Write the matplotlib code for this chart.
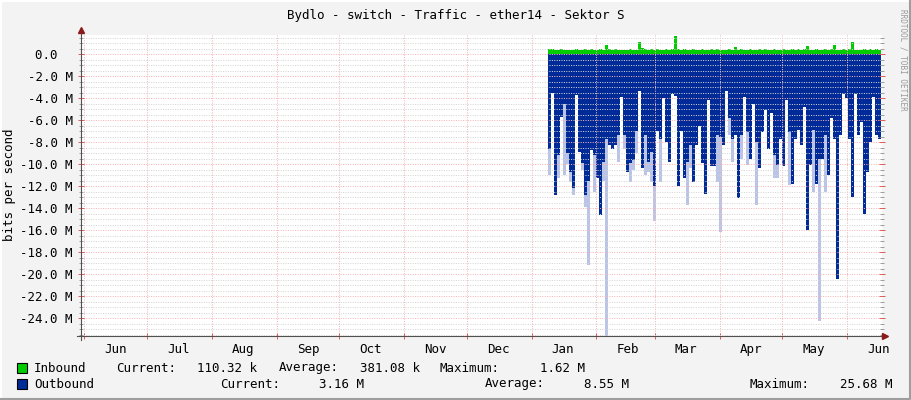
import datetime as dt
import matplotlib
matplotlib.use("Agg")
import matplotlib.pyplot as plt
import matplotlib.dates as mdates
from matplotlib.ticker import MultipleLocator, FuncFormatter, NullFormatter
from matplotlib.lines import Line2D
from matplotlib.patches import Rectangle
import pandas as pd

plt.rcParams['font.family'] = ['DejaVu Sans Mono']

W, H = 911, 400

title = "Bydlo - switch - Traffic - ether14 - Sektor S"

# samples, one per ~3 px column (values in Mbit/s)
inbound = [0.45, 0.42, 0.38, 0.40, 0.43, 0.36, 0.39, 0.41, 0.37, 0.44,
           0.40, 0.35, 0.42, 0.38, 0.46, 0.40, 0.37, 0.43, 0.39, 0.80,
           0.42, 0.38, 0.45, 0.40, 0.36, 0.41, 0.39, 0.44, 0.37, 0.40,
           1.10, 0.55, 0.42, 0.38, 0.46, 0.40, 0.43, 0.37, 0.41, 0.45,
           0.39, 0.48, 1.60, 0.44, 0.38, 0.42, 0.40, 0.36, 0.43, 0.39,
           0.41, 0.45, 0.37, 0.40, 0.44, 0.38, 0.42, 0.40, 0.36, 0.41,
           0.45, 0.39, 0.62, 0.40, 0.43, 0.37, 0.41, 0.44, 0.38, 0.40,
           0.46, 0.39, 0.42, 0.37, 0.41, 0.44, 0.38, 0.40, 0.43, 0.36,
           0.41, 0.45, 0.39, 0.42, 0.40, 0.48, 0.75, 0.41, 0.38, 0.44,
           0.40, 0.37, 0.43, 0.39, 0.46, 0.85, 0.41, 0.38, 0.42, 0.40,
           0.44, 1.05, 0.39, 0.41, 0.37, 0.43, 0.40, 0.45, 0.38, 0.42, 0.36]

# outbound: dark part (typical) and faint tail (peak within the column)
outbound_solid = [8.6, 3.5, 12.8, 9.2, 5.7, 4.5, 9.0, 10.7, 12.2, 3.7,
                  8.9, 9.9, 12.8, 11.5, 8.7, 9.2, 11.3, 14.6, 9.8, 7.7,
                  8.3, 8.6, 8.3, 7.4, 3.9, 7.4, 10.7, 9.9, 9.6, 7.0,
                  3.4, 10.4, 7.4, 9.8, 8.9, 12.0, 7.0, 7.7, 4.0, 8.0,
                  9.8, 3.6, 3.8, 12.0, 7.0, 11.3, 9.8, 8.3, 11.6, 8.3,
                  6.5, 9.9, 12.7, 4.2, 10.2, 10.2, 7.4, 7.5, 8.3, 3.4,
                  5.8, 7.7, 7.4, 13.1, 7.4, 3.9, 7.1, 9.5, 4.5, 8.0,
                  10.4, 7.1, 5.1, 8.6, 5.4, 9.2, 10.1, 7.7, 10.2, 4.2,
                  7.1, 11.8, 7.7, 6.9, 8.3, 4.8, 16.0, 10.1, 6.9, 11.8,
                  9.5, 9.5, 7.4, 11.0, 5.8, 7.7, 20.4, 7.4, 3.6, 4.0,
                  7.7, 13.0, 3.6, 7.4, 6.2, 14.5, 10.7, 8.0, 3.9, 7.4, 7.7]

outbound_peak = [11.0, 3.5, 12.8, 11.3, 5.7, 11.0, 10.0, 11.6, 12.8, 3.7,
                 8.9, 10.5, 13.9, 19.2, 8.7, 12.5, 11.3, 14.6, 11.5, 25.7,
                 8.3, 8.6, 8.3, 9.8, 3.9, 8.6, 10.7, 11.6, 10.5, 9.0,
                 3.4, 10.4, 11.0, 10.7, 11.6, 15.2, 7.0, 11.6, 4.0, 8.0,
                 9.8, 3.6, 3.8, 12.0, 7.0, 11.3, 13.7, 10.4, 11.6, 8.3,
                 6.5, 9.9, 12.7, 4.2, 10.2, 10.2, 11.6, 16.2, 8.3, 3.4,
                 7.4, 9.8, 7.4, 13.1, 9.5, 3.9, 10.1, 9.5, 4.5, 13.7,
                 10.4, 7.1, 5.1, 8.6, 5.4, 11.3, 11.3, 7.7, 10.2, 4.2,
                 11.9, 11.8, 7.7, 6.9, 8.3, 4.8, 16.0, 10.1, 12.5, 11.8,
                 24.3, 9.5, 12.5, 11.0, 5.8, 7.7, 20.4, 7.4, 3.6, 4.0,
                 7.7, 13.0, 3.6, 7.4, 6.2, 14.5, 10.7, 8.0, 3.9, 7.4, 7.7]

legend_in = ["Current:", "110.32 k", "Average:", "381.08 k", "Maximum:", "1.62 M"]
legend_out = ["Current:", "3.16 M", "Average:", "8.55 M", "Maximum:", "25.68 M"]

in_color = '#00CC00'
out_color = '#002A97'
faint_color = '#BAC4E6'
bg = '#F3F3F3'

# time axis: one sample every 2067 minutes starting early January
n = len(inbound)
times = pd.date_range(dt.datetime(2019, 1, 8, 22), periods=n + 1, freq='2067min')
x = mdates.date2num(times.to_pydatetime())
inb = inbound + [inbound[-1]]
sol = [-v for v in outbound_solid] + [-outbound_solid[-1]]
pk = [-v for v in outbound_peak] + [-outbound_peak[-1]]

fig = plt.figure(figsize=(W / 100, H / 100), dpi=100, facecolor=bg)
ax = fig.add_axes([81 / W, 1 - 336 / H, 801 / W, 301 / H])
ax.set_facecolor('white')

ax.fill_between(x, 0, pk, step='post', color=faint_color, lw=0, zorder=1)
ax.fill_between(x, 0, sol, step='post', color=out_color, lw=0, zorder=1.1)
ax.fill_between(x, 0, inb, step='post', color=in_color, lw=0, zorder=1.2)

ax.set_xlim(mdates.date2num(dt.datetime(2018, 5, 30, 10)),
            mdates.date2num(dt.datetime(2019, 6, 17, 16)))
ax.set_ylim(-25.62, 1.73)

# grid
ax.xaxis.set_major_locator(mdates.MonthLocator())
ax.xaxis.set_major_formatter(NullFormatter())
ax.xaxis.set_minor_locator(mdates.MonthLocator(bymonthday=16))
ax.xaxis.set_minor_formatter(mdates.DateFormatter('%b'))
ax.yaxis.set_major_locator(MultipleLocator(2))
ax.yaxis.set_minor_locator(MultipleLocator(0.5))
ax.yaxis.set_major_formatter(FuncFormatter(
    lambda v, p: "0.0  " if abs(v) < 1e-9 else f"{v:.1f} M"))

ax.set_axisbelow(False)
ax.grid(which='major', color='#F6B4B4', lw=0.72, ls=(0, (1, 1.4)))
ax.grid(which='minor', axis='y', color='#D4D4D4', lw=0.72, ls=(0, (1, 1.4)))

ax.tick_params(axis='y', which='major', direction='inout', length=4, width=0.72,
               color='#E06060', left=True, right=True, labelsize=9, pad=4)
ax.tick_params(axis='y', which='minor', direction='inout', length=3, width=0.72,
               color='#A0A0A0', left=True, right=True)
ax.tick_params(axis='x', which='major', direction='inout', length=4, width=0.72,
               color='#E06060')
ax.tick_params(axis='x', which='minor', length=0, labelsize=9, pad=5)

for s in ax.spines.values():
    s.set_visible(False)

# axis lines with arrows
def px(xp, yp):
    return xp / W, 1 - yp / H

fig.add_artist(Line2D(*zip(px(81, 340), px(81, 31)), color='#505050', lw=0.8))
fig.add_artist(Line2D(*zip(px(77, 336), px(884, 336)), color='#505050', lw=0.8))
fig.add_artist(Line2D([px(81, 30)[0]], [px(81, 30)[1]], marker='^', ms=5,
                      color='#8B1A1A', lw=0))
fig.add_artist(Line2D([px(885, 336)[0]], [px(885, 336)[1]], marker='>', ms=5,
                      color='#8B1A1A', lw=0))

# title and labels
fig.text(*px(455.5, 15), title, ha='center', va='center', fontsize=9)
fig.text(*px(10, 185), "bits per second", rotation=90, ha='center',
         va='center', fontsize=9)
fig.text(*px(903, 60), "RRDTOOL / TOBI OETIKER", rotation=270, ha='center',
         va='center', fontsize=5.5, color='#9A9A9A')

# legend
for yrow, col, name in [(368, in_color, "Inbound"), (384, out_color, "Outbound")]:
    x0, y0 = px(17, yrow + 5)
    fig.add_artist(Rectangle((x0, y0), 10 / W, 10 / H, transform=fig.transFigure,
                             facecolor=col, edgecolor='black', lw=0.8))
    fig.text(*px(34, yrow), name, va='center', fontsize=9)

in_pos = [(116, 'l'), (257, 'r'), (279, 'l'), (420, 'r'), (440, 'l'), (585, 'r')]
out_pos = [(220, 'l'), (364, 'r'), (485, 'l'), (629, 'r'), (750, 'l'), (893, 'r')]
for labels, pos, yrow in [(legend_in, in_pos, 368), (legend_out, out_pos, 384)]:
    for t, (xp, al) in zip(labels, pos):
        fig.text(*px(xp, yrow), t, va='center', fontsize=9,
                 ha='left' if al == 'l' else 'right')

# 3d frame
fig.add_artist(Line2D(*zip(px(0.5, 399), px(0.5, 0.5), px(910, 0.5)),
                      color='#FFFFFF', lw=1.5))
fig.add_artist(Line2D(*zip(px(1, 399), px(910, 399), px(910, 0.5)),
                      color='#9E9E9E', lw=1.5))

fig.savefig("out.png", dpi=100, facecolor=bg)
